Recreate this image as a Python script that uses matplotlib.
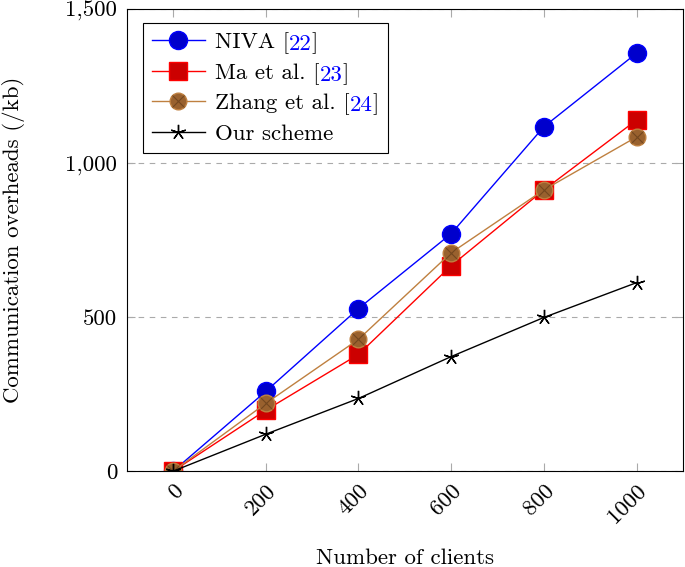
import matplotlib
matplotlib.use("Agg")
import matplotlib.pyplot as plt
from matplotlib.ticker import FuncFormatter
from matplotlib.legend_handler import HandlerTuple

plt.rcParams['font.family'] = 'serif'
plt.rcParams['font.serif'] = ['cmr10', 'DejaVu Serif']
plt.rcParams['mathtext.fontset'] = 'cm'
plt.rcParams['axes.formatter.use_mathtext'] = True

clients = [0, 200, 400, 600, 800, 1000]
niva = [0, 259, 528, 771, 1118, 1357]
ma = [0, 198, 379, 667, 913, 1140]
zhang = [0, 220, 428, 709, 913, 1085]
ours = [0, 120, 236, 372, 499, 612]

# legend label pieces: (prefix, citation number, suffix)
labels = [("NIVA [", "22", "]"), ("Ma et al. [", "23", "]"),
          ("Zhang et al. [", "24", "]"), ("Our scheme", "", "")]

brown = (0.75, 0.5, 0.25)
brown_fill = (0.6, 0.38, 0.18)
fs = 16.5

fig = plt.figure(figsize=(6.85, 5.67), dpi=100)
ax = fig.add_axes([0.185, 0.169, 0.812, 0.815])

l1, = ax.plot(clients, niva, color='blue', lw=1, marker='o', ms=13,
              mfc=(0, 0, 0.8), mec='blue')
l2, = ax.plot(clients, ma, color='red', lw=1, marker='s', ms=12.5,
              mfc=(0.8, 0, 0), mec='red')
l3, = ax.plot(clients, zhang, color=brown, lw=1, marker='o', ms=12,
              mfc=brown_fill, mec=brown)
l3x, = ax.plot(clients, zhang, ls='none', marker='x', ms=8,
               mec=(0.45, 0.28, 0.12), mew=0.8)
l4, = ax.plot(clients, ours, color='black', lw=1, marker=(5, 2, 0), ms=11, mew=1)

ax.set_xlim(-100, 1100)
ax.set_ylim(0, 1500)
ax.set_xticks(clients)
ax.set_yticks([0, 500, 1000, 1500])
ax.yaxis.set_major_formatter(FuncFormatter(lambda v, p: f"{int(v):,}"))
ax.set_xticklabels([str(c) for c in clients], rotation=45, ha='right',
                   rotation_mode='anchor', fontsize=fs)
for t in ax.get_yticklabels():
    t.set_fontsize(fs)
ax.tick_params(direction='in', length=6, color='#aaaaaa', top=True, right=True, width=0.8)
ax.tick_params(axis='x', pad=7)
ax.tick_params(axis='y', pad=7)
ax.yaxis.grid(True, ls=(0, (5, 5)), color='#aaaaaa', lw=0.8)
ax.set_axisbelow(True)
for s in ax.spines.values():
    s.set_linewidth(0.8)

ax.set_xlabel('Number of clients', fontsize=fs)
ax.set_ylabel('Communication overheads (/kb)', fontsize=fs)
ax.xaxis.set_label_coords(0.5, -0.168)
ax.yaxis.set_label_coords(-0.183, 0.5)

leg = ax.legend([l1, l2, (l3, l3x), l4], [''.join(p) for p in labels],
                handler_map={tuple: HandlerTuple(ndivide=1)},
                loc='upper left', bbox_to_anchor=(0.029, 0.97), borderaxespad=0,
                fontsize=fs, fancybox=False, edgecolor='black', framealpha=1,
                handlelength=2.3, handletextpad=0.45, labelspacing=0.38,
                borderpad=0.4)
leg.get_frame().set_linewidth(0.8)

# overlay legend labels so the citation numbers are blue
fig.canvas.draw()
for txt, (pre, num, post) in zip(leg.get_texts(), labels):
    if not num:
        continue
    txt.set_color('none')
    a1 = ax.annotate(pre, xy=(0, 0), xycoords=txt, ha='left', va='bottom',
                     fontsize=fs, zorder=10)
    a2 = ax.annotate(num, xy=(1, 0), xycoords=a1, ha='left', va='bottom',
                     fontsize=fs, color='blue', zorder=10)
    ax.annotate(post, xy=(1, 0), xycoords=a2, ha='left', va='bottom',
                fontsize=fs, zorder=10)

fig.savefig('out.png', dpi=100)
